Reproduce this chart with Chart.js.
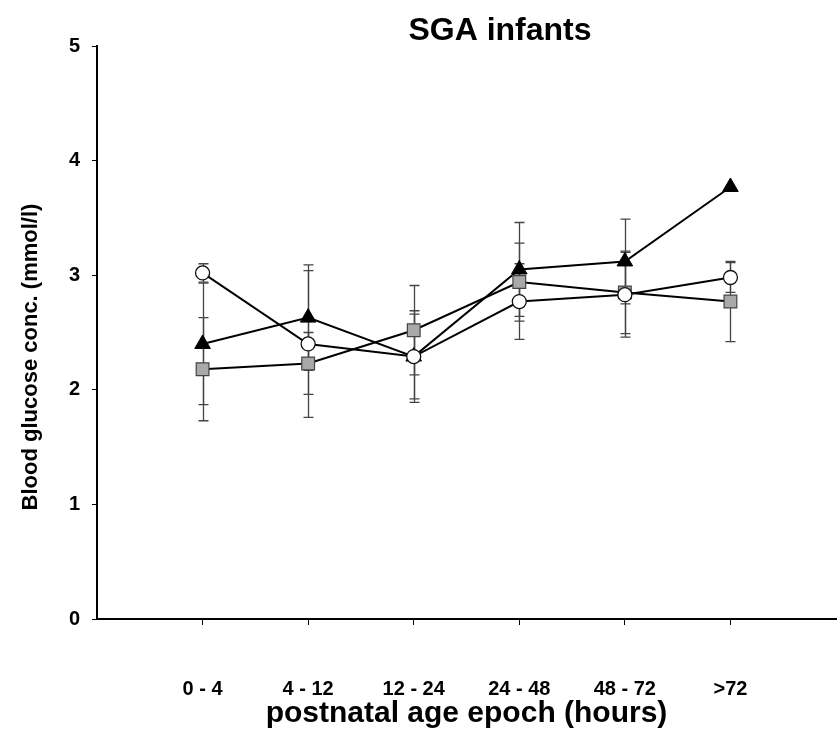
<!DOCTYPE html>
<html>
<head>
<meta charset="utf-8">
<script src="https://cdn.jsdelivr.net/npm/chart.js@4.4.1/dist/chart.umd.min.js"></script>
<style>
  html, body { margin: 0; padding: 0; background: #ffffff; }
  #wrap { width: 837px; height: 733px; }
</style>
</head>
<body>
<div id="wrap"><canvas id="c" width="837" height="733"></canvas></div>
<script>
// ---- data ----
const chartTitle = 'SGA infants';
const xAxisTitle = 'postnatal age epoch (hours)';
const yAxisTitle = 'Blood glucose conc. (mmol/l)';
const categories = ['0 - 4', '4 - 12', '12 - 24', '24 - 48', '48 - 72', '>72'];
const yTickValues = [0, 1, 2, 3, 4, 5];

const circleMeans   = [3.02, 2.40, 2.29, 2.77, 2.83, 2.98];
const circleErrors  = [0.08, 0.64, 0.37, 0.33, 0.37, 0.13];
const triangleMeans  = [2.40, 2.63, 2.29, 3.05, 3.12, 3.77];
const triangleErrors = [0.53, 0.46, 0.40, 0.41, 0.37, null];
const squareMeans   = [2.18, 2.23, 2.52, 2.94, 2.85, 2.77];
const squareErrors  = [0.45, 0.27, 0.39, 0.34, 0.36, 0.35];

const FONT = '"Liberation Sans", Arial, Helvetica, sans-serif';
const toPoints = arr => arr.map((v, i) => ({ x: i + 1, y: v }));

// error bars drawn through the chart's scales
const errorBarPlugin = {
  id: 'errorBars',
  beforeDatasetsDraw(chart) {
    const { ctx, scales } = chart;
    const xs = scales.x, ys = scales.y;
    ctx.save();
    ctx.strokeStyle = '#444444';
    ctx.lineWidth = 1.3;
    chart.data.datasets.forEach(ds => {
      const errs = ds.errors;
      if (!errs) return;
      ds.data.forEach((p, i) => {
        const e = errs[i];
        if (e == null) return;
        const px = Math.round(xs.getPixelForValue(p.x)) + 0.5;
        const yt = ys.getPixelForValue(p.y + e);
        const yb = ys.getPixelForValue(p.y - e);
        ctx.beginPath();
        ctx.moveTo(px, yt); ctx.lineTo(px, yb);
        ctx.moveTo(px - 5, yt); ctx.lineTo(px + 5, yt);
        ctx.moveTo(px - 5, yb); ctx.lineTo(px + 5, yb);
        ctx.stroke();
      });
    });
    ctx.restore();
  }
};

// chart title and rotated y-axis title
const textPlugin = {
  id: 'texts',
  afterDraw(chart) {
    const { ctx, chartArea } = chart;
    ctx.save();
    ctx.fillStyle = '#000000';
    ctx.textAlign = 'center';
    ctx.textBaseline = 'middle';
    ctx.font = 'bold 32px ' + FONT;
    ctx.fillText(chartTitle, 500, 31);
    ctx.translate(31, chartArea.top + 311);
    ctx.rotate(-Math.PI / 2);
    ctx.font = 'bold 22px ' + FONT;
    ctx.fillText(yAxisTitle, 0, 0);
    ctx.restore();
  }
};

new Chart(document.getElementById('c'), {
  type: 'line',
  data: {
    datasets: [
      {
        label: 'circle',
        data: toPoints(circleMeans),
        errors: circleErrors,
        borderColor: '#000000',
        borderWidth: 2,
        pointStyle: 'circle',
        pointRadius: 7,
        pointBackgroundColor: '#ffffff',
        pointBorderColor: '#111111',
        pointBorderWidth: 1.3,
        tension: 0
      },
      {
        label: 'square',
        data: toPoints(squareMeans),
        errors: squareErrors,
        borderColor: '#000000',
        borderWidth: 2,
        pointStyle: 'rect',
        pointRadius: 9,
        pointBackgroundColor: '#a9a9a9',
        pointBorderColor: '#444444',
        pointBorderWidth: 1.2,
        tension: 0
      },
      {
        label: 'triangle',
        data: toPoints(triangleMeans),
        errors: triangleErrors,
        borderColor: '#000000',
        borderWidth: 2,
        pointStyle: 'triangle',
        pointRadius: 9,
        pointBackgroundColor: '#000000',
        pointBorderColor: '#000000',
        pointBorderWidth: 1,
        tension: 0
      }
    ]
  },
  options: {
    responsive: false,
    animation: false,
    devicePixelRatio: 1,
    layout: { autoPadding: false, padding: { top: 46, right: 1, bottom: 0, left: 0 } },
    plugins: {
      legend: { display: false },
      tooltip: { enabled: false },
      title: { display: false }
    },
    scales: {
      x: {
        type: 'linear',
        min: 0,
        max: 7,
        afterBuildTicks: s => { s.ticks = categories.map((c, i) => ({ value: i + 1 })); },
        afterFit: s => { s.height = 114; },
        ticks: {
          autoSkip: false,
          maxRotation: 0,
          padding: 52,
          color: '#000000',
          font: { family: FONT, size: 20, weight: 'bold' },
          callback: v => categories[v - 1] ?? ''
        },
        grid: { drawOnChartArea: false, drawTicks: true, tickLength: 6, color: '#000000', lineWidth: 1 },
        border: { display: true, color: '#000000', width: 2 },
        title: {
          display: true,
          text: xAxisTitle,
          color: '#000000',
          font: { family: FONT, size: 30, weight: 'bold' },
          padding: { top: 0, bottom: 1 }
        }
      },
      y: {
        type: 'linear',
        min: 0,
        max: 5,
        afterBuildTicks: s => { s.ticks = yTickValues.map(v => ({ value: v })); },
        afterFit: s => { s.width = 97; },
        ticks: {
          padding: 12,
          color: '#000000',
          font: { family: FONT, size: 20, weight: 'bold' }
        },
        grid: { drawOnChartArea: false, drawTicks: true, tickLength: 5, color: '#000000', lineWidth: 1 },
        border: { display: true, color: '#000000', width: 2 }
      }
    }
  },
  plugins: [errorBarPlugin, textPlugin]
});
</script>
</body>
</html>
